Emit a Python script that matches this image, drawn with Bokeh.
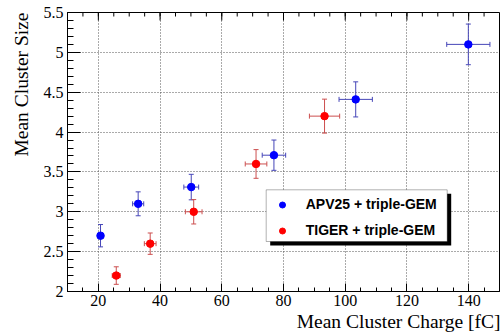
import numpy as np
from bokeh.plotting import figure
from bokeh.models import (ColumnDataSource, Whisker, TeeHead, Legend, LegendItem,
                          BoxAnnotation, Range1d, SingleIntervalTicker, Title)
from bokeh.embed import file_html
from bokeh.resources import INLINE

# APV25 + triple-GEM
apv_charge = [20.7, 32.9, 50.1, 76.9, 103.4, 139.9]
apv_charge_err = [1.0, 1.8, 2.4, 3.8, 5.4, 7.0]
apv_size = [2.70, 3.10, 3.31, 3.71, 4.41, 5.10]
apv_size_err = [0.14, 0.15, 0.16, 0.19, 0.22, 0.255]

# TIGER + triple-GEM
tiger_charge = [25.8, 36.8, 50.9, 71.1, 93.3]
tiger_charge_err = [1.3, 1.9, 2.7, 3.5, 4.9]
tiger_size = [2.20, 2.60, 3.00, 3.60, 4.20]
tiger_size_err = [0.11, 0.134, 0.153, 0.18, 0.213]

y_tick_values = [2.0, 2.5, 3.0, 3.5, 4.0, 4.5, 5.0, 5.5]
y_tick_labels = ["2", "2.5", "3", "3.5", "4", "4.5", "5", "5.5"]

x_title = "Mean Cluster Charge [fC]"
y_title = "Mean Cluster Size"
legend_labels = ["APV25 + triple-GEM", "TIGER + triple-GEM"]

X0, X1, Y0, Y1 = 10, 150, 2, 5.5
FL, FT, FR, FB = 67, 12, 499, 291   # frame edges in page pixels
FW, FH = FR - FL, FB - FT
px_x = (X1 - X0) / FW
px_y = (Y1 - Y0) / FH

p = figure(width=502, height=334, output_backend="svg", toolbar_location=None,
           x_range=Range1d(X0, X1), y_range=Range1d(Y0, Y1),
           min_border_left=FL, min_border_right=502 - FR, min_border_top=FT,
           min_border_bottom=334 - FB)
p.background_fill_color = "white"
p.border_fill_color = "white"
p.outline_line_color = "black"
p.outline_line_width = 1

SERIF = "Liberation Serif"

# axes
p.xaxis.ticker = SingleIntervalTicker(interval=20, num_minor_ticks=4)
p.yaxis.ticker = SingleIntervalTicker(interval=0.5, num_minor_ticks=5)
p.yaxis.major_label_overrides = {v: s for v, s in zip(y_tick_values, y_tick_labels)}
for ax in (p.xaxis[0], p.yaxis[0]):
    ax.major_tick_out = 0
    ax.minor_tick_out = 0
    ax.axis_line_color = "black"
    ax.major_tick_line_color = "black"
    ax.minor_tick_line_color = "black"
    ax.major_label_text_font = SERIF
    ax.major_label_text_font_size = "16px"
    ax.major_label_text_color = "black"
p.xaxis.major_tick_in = 8
p.xaxis.minor_tick_in = 4
p.xaxis.major_label_standoff = 3
p.yaxis.major_tick_in = 13
p.yaxis.minor_tick_in = 6
p.yaxis.major_label_standoff = 4

# axis titles, right/top aligned as in ROOT
p.add_layout(Title(text=x_title, align="right", text_font=SERIF, text_font_size="19.5px",
                   text_font_style="normal", text_color="black", standoff=0, offset=-1),
             "below")
p.add_layout(Title(text=y_title, align="right", text_font=SERIF, text_font_size="19.5px",
                   text_font_style="normal", text_color="black", standoff=17, offset=0),
             "left")

p.xgrid.grid_line_color = "#555555"
p.xgrid.grid_line_dash = "1 2"
p.ygrid.grid_line_color = "#555555"
p.ygrid.grid_line_dash = "1 2"

# ticks along the top edge of the frame (ROOT style)
top_major = np.arange(20, 141, 20)
top_minor = np.arange(10, 151, 5)
p.segment(x0=top_minor, x1=top_minor, y0=Y1, y1=Y1 - 4 * px_y, line_color="black", line_width=1)
p.segment(x0=top_major, x1=top_major, y0=Y1, y1=Y1 - 8 * px_y, line_color="black", line_width=1)

BLUE_BAR = "#4646b8"
RED_BAR = "#cc4f4f"

def add_series(xs, xe, ys, ye, bar_color, color):
    xs = np.array(xs); xe = np.array(xe); ys = np.array(ys); ye = np.array(ye)
    src = ColumnDataSource(dict(x=xs, y=ys, xl=xs - xe, xu=xs + xe, yl=ys - ye, yu=ys + ye))
    for base, lo, hi, dim in (("x", "yl", "yu", "height"), ("y", "xl", "xu", "width")):
        p.add_layout(Whisker(source=src, base=base, lower=lo, upper=hi, dimension=dim,
                             line_color=bar_color, line_width=1,
                             upper_head=TeeHead(size=5, line_color=bar_color, line_width=1),
                             lower_head=TeeHead(size=5, line_color=bar_color, line_width=1)))
    return p.scatter("x", "y", source=src, size=7.5, fill_color=color, line_color=color)

r_apv = add_series(apv_charge, apv_charge_err, apv_size, apv_size_err, BLUE_BAR, "#0000ff")
r_tig = add_series(tiger_charge, tiger_charge_err, tiger_size, tiger_size_err, RED_BAR, "#ff0000")

# legend box with shadow (page coords -> data)
def dx(page_x):
    return X0 + (page_x - FL) * px_x

def dy(page_y):
    return Y1 - (page_y - FT) * px_y

L, T, R, B = 265.7, 189.3, 446.7, 241.0
p.add_layout(BoxAnnotation(left=dx(L + 4), right=dx(R + 4), top=dy(T + 4), bottom=dy(B + 4),
                           fill_color="black", fill_alpha=1, line_color=None, level="overlay"))
p.add_layout(BoxAnnotation(left=dx(L), right=dx(R), top=dy(T), bottom=dy(B),
                           fill_color="white", fill_alpha=1, line_color="black", line_width=1,
                           level="overlay"))

legend = Legend(items=[LegendItem(label=legend_labels[0], renderers=[r_apv]),
                       LegendItem(label=legend_labels[1], renderers=[r_tig])],
                location=(L - FL, FB - B + 1), orientation="vertical",
                background_fill_alpha=0, border_line_color=None,
                label_text_font="Liberation Sans", label_text_font_style="bold",
                label_text_font_size="14px", label_text_color="black",
                glyph_width=32, glyph_height=15, label_height=20, spacing=6,
                padding=5, margin=0, label_standoff=8)
p.add_layout(legend)

open("out.html", "w").write(file_html(p, INLINE))
